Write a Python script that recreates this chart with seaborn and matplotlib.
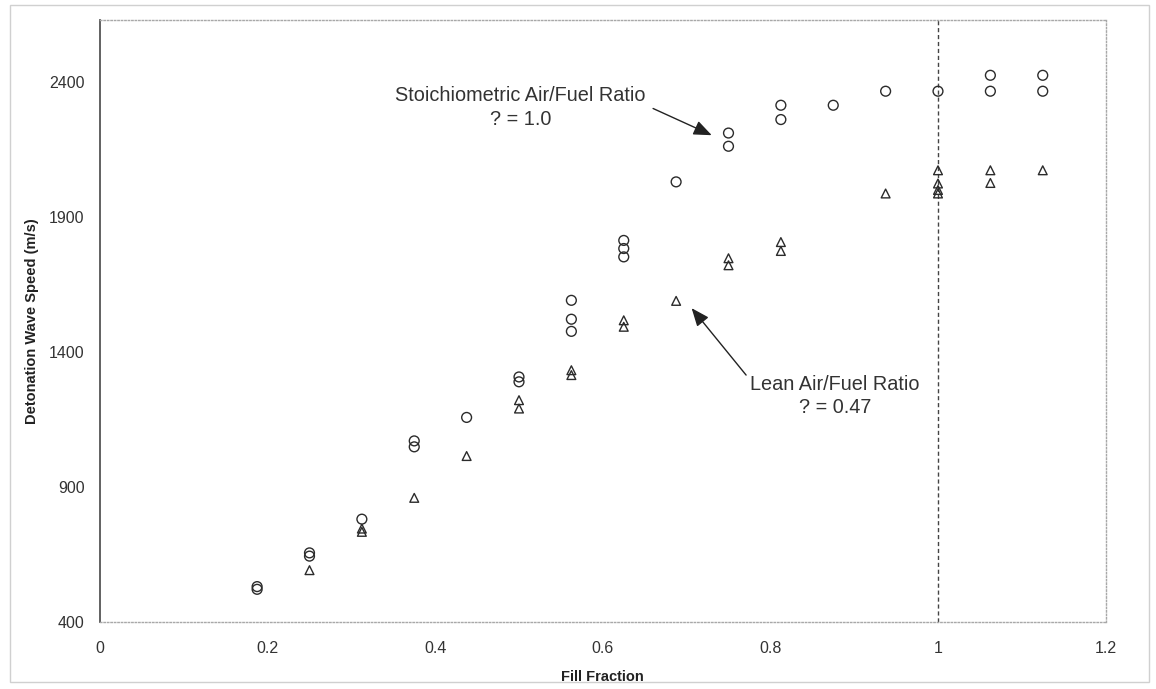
import numpy as np
import pandas as pd
import matplotlib
matplotlib.use("Agg")
import matplotlib.pyplot as plt
import seaborn as sns
from matplotlib.patches import Rectangle

# ---------- Data ----------
fill_stoich = [0.1875, 0.1875, 0.25, 0.25, 0.3125, 0.375, 0.375, 0.4375,
               0.5, 0.5, 0.5625, 0.5625, 0.5625, 0.625, 0.625, 0.625,
               0.6875, 0.75, 0.75, 0.8125, 0.8125, 0.875, 0.9375, 1.0,
               1.0625, 1.0625, 1.125, 1.125]
speed_stoich = [520, 530, 643, 655, 780, 1048, 1070, 1157,
                1289, 1307, 1476, 1521, 1591, 1752, 1783, 1813,
                2030, 2162, 2211, 2261, 2314, 2314, 2366, 2366,
                2366, 2425, 2366, 2425]

fill_lean = [0.25, 0.3125, 0.3125, 0.375, 0.4375, 0.5, 0.5, 0.5625, 0.5625,
             0.625, 0.625, 0.6875, 0.75, 0.75, 0.8125, 0.8125, 0.9375,
             1.0, 1.0, 1.0, 1.0, 1.0625, 1.0625, 1.125]
speed_lean = [591, 733, 745, 859, 1014, 1190, 1221, 1314, 1332,
              1493, 1517, 1589, 1721, 1747, 1774, 1807, 1987,
              1987, 2000, 2024, 2073, 2026, 2073, 2073]

x_ticks = [0, 0.2, 0.4, 0.6, 0.8, 1.0, 1.2]
x_tick_labels = ["0", "0.2", "0.4", "0.6", "0.8", "1", "1.2"]
y_ticks = [400, 900, 1400, 1900, 2400]

stoich_label = "Stoichiometric Air/Fuel Ratio\n? = 1.0"
lean_label = "Lean Air/Fuel Ratio\n? = 0.47"

df = pd.concat([
    pd.DataFrame({"fill": fill_stoich, "speed": speed_stoich, "ratio": "stoich"}),
    pd.DataFrame({"fill": fill_lean, "speed": speed_lean, "ratio": "lean"}),
], ignore_index=True)

# ---------- Style ----------
sns.set_style("white")
plt.rcParams["font.family"] = ["Liberation Sans", "DejaVu Sans"]
INK = "#2b2b2b"

fig = plt.figure(figsize=(11.56, 6.89), dpi=100)
ax = fig.add_axes([0.0865, 0.0977, 0.8699, 0.8733])

# light frame around the whole picture
fig.patches.append(Rectangle((0.009, 0.01), 0.985, 0.983, transform=fig.transFigure,
                             fill=False, edgecolor="#d0d0d0", linewidth=1.0))

sns.scatterplot(data=df[df.ratio == "stoich"], x="fill", y="speed", marker="o",
                s=50, facecolors="none", edgecolor=INK, linewidth=1.0, ax=ax, legend=False)
sns.scatterplot(data=df[df.ratio == "lean"], x="fill", y="speed", marker="^",
                s=40, facecolors="none", edgecolor=INK, linewidth=1.0, ax=ax, legend=False)

ax.axvline(1.0, color="#444444", linestyle=(0, (3, 2)), linewidth=1.0, zorder=0)

ax.set_xlim(0, 1.2)
ax.set_ylim(400, 2630)
ax.set_xticks(x_ticks)
ax.set_xticklabels(x_tick_labels)
ax.set_yticks(y_ticks)
ax.tick_params(axis="both", length=0, labelsize=11.5, colors="#333333")
ax.tick_params(axis="x", pad=14)
ax.tick_params(axis="y", pad=11)

ax.set_xlabel("Fill Fraction", fontsize=10.5, fontweight="bold", color="#222222", labelpad=10)
ax.set_ylabel("Detonation Wave Speed (m/s)", fontsize=10.5, fontweight="bold",
              color="#222222", labelpad=7)

for side in ["top", "right", "bottom"]:
    ax.spines[side].set_visible(True)
    ax.spines[side].set_linestyle((0, (1, 1.5)))
    ax.spines[side].set_color("#a8a8a8")
    ax.spines[side].set_linewidth(1.0)
ax.spines["left"].set_color("#555555")
ax.spines["left"].set_linewidth(1.3)

# ---------- Annotations ----------
arrow = dict(arrowstyle="-|>,head_length=1.1,head_width=0.45", color="#222222",
             linewidth=1.0, shrinkA=0, shrinkB=0)
ax.annotate("", xy=(0.730, 2203), xytext=(0.660, 2302), arrowprops=arrow)
ax.text(0.502, 2306, stoich_label, ha="center", va="center", fontsize=14.3,
        color="#333333", linespacing=1.3)

ax.annotate("", xy=(0.706, 1562), xytext=(0.771, 1314), arrowprops=arrow)
ax.text(0.877, 1236, lean_label, ha="center", va="center", fontsize=14.3,
        color="#333333", linespacing=1.3)

fig.savefig("out.png", dpi=100)
print("saved out.png")
